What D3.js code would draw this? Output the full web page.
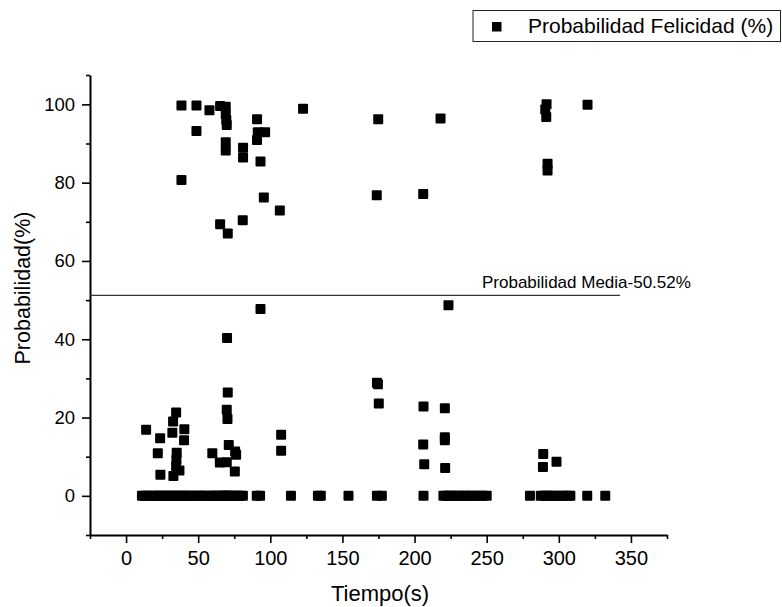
<!DOCTYPE html>
<html>
<head>
<meta charset="utf-8">
<script src="https://cdn.jsdelivr.net/npm/d3@7"></script>
<style>
  html, body { margin: 0; padding: 0; background: #fff; }
  svg { display: block; font-family: Arial, "Liberation Sans", sans-serif; }
</style>
</head>
<body>
<svg id="chart" width="782" height="607"></svg>
<script>
// ---- data ----
const seriesName = "Probabilidad Felicidad (%)";
const tiempo = [
  // upper cluster
  38.4, 48.8, 57.8, 65.2, 69.1, 69.1, 69.5, 69.8, 90.8, 96.4, 91.3, 90.8, 48.8, 69.1, 69.1, 81.1, 81.1, 93.2, 122.7, 38.4, 95.5, 106.6, 65.2, 80.9, 70.5,
  174.8, 218, 291.5, 290.6, 291.3, 319.9, 292.2, 292.2, 173.8, 206,
  // lower cluster
  93.2, 70, 70.5, 69.8, 70.3, 34.7, 32.6, 13.9, 32.1, 40.4, 23.6, 40.2, 22, 35.1, 34.9, 34.7, 37, 32.8, 23.8, 59.8, 65, 69.8, 71.2, 75.6, 76.3, 75.4, 107.5, 107.5,
  223.5, 173.9, 174.6, 175.2, 206.2, 221, 221, 221, 206, 206.7, 221.2, 289.2, 298.4, 289,
  // zero row
  11, 13, 15, 18, 20, 22, 24, 26, 28, 30, 32, 34, 36, 38, 40, 42, 44, 46, 49, 51, 53, 55, 58, 60, 62, 64, 66, 68, 69, 70, 71, 73, 75, 77, 79, 81,
  90.6, 92.9, 114.3, 133, 135, 154.2, 173.9, 177.3, 206.2,
  220, 222, 224, 226, 229, 231, 234, 236, 239, 241, 244, 247, 250,
  280, 287.5, 290, 292, 294, 297, 300, 303, 306, 308, 319.7, 332.2
];
const probabilidad = [
  99.7, 99.7, 98.5, 99.6, 99.4, 97.5, 96, 94.7, 96.2, 92.9, 92.9, 90.9, 93.2, 90.3, 88.2, 88.9, 86.4, 85.4, 98.9, 80.7, 76.2, 72.9, 69.4, 70.4, 67.0,
  96.2, 96.4, 100, 98.7, 96.8, 99.9, 84.8, 83.1, 76.8, 77.1,
  47.7, 40.3, 26.4, 22, 19.6, 21.3, 19, 16.9, 16.1, 17, 14.7, 14.2, 10.9, 11, 9.2, 7.5, 6.5, 5.1, 5.4, 10.9, 8.5, 8.6, 13, 11.3, 10.5, 6.2, 15.6, 11.5,
  48.7, 28.9, 28.5, 23.6, 22.8, 22.4, 15, 14.2, 13.1, 8.1, 7.1, 10.7, 8.7, 7.4,
  0, 0, 0, 0, 0, 0, 0, 0, 0, 0, 0, 0, 0, 0, 0, 0, 0, 0, 0, 0, 0, 0, 0, 0, 0, 0, 0, 0, 0, 0, 0, 0, 0, 0, 0, 0,
  0, 0, 0, 0, 0, 0, 0, 0, 0,
  0, 0, 0, 0, 0, 0, 0, 0, 0, 0, 0, 0, 0,
  0, 0, 0, 0, 0, 0, 0, 0, 0, 0, 0, 0
];
const xTicks = [0, 50, 100, 150, 200, 250, 300, 350];
const xMinorTicks = [-25, 25, 75, 125, 175, 225, 275, 325, 375];
const yTicks = [0, 20, 40, 60, 80, 100];
const yMinorTicks = [-10, 10, 30, 50, 70, 90];
const meanLabel = "Probabilidad Media-50.52%";
const meanLineT = [-25, 342.5];
const meanLineV = [51.2, 51.2];
const xTitle = "Tiempo(s)";
const yTitle = "Probabilidad(%)";

// ---- drawing ----
const svg = d3.select("#chart");
const x = d3.scaleLinear().domain([-25, 375]).range([90, 667]);
const y = d3.scaleLinear().domain([-10, 107.5]).range([535, 75]);

// x axis
const gx = svg.append("g").attr("transform", `translate(0,${y(-10)})`);
gx.call(d3.axisBottom(x).tickValues(xTicks).tickSize(8).tickPadding(8).tickSizeOuter(0));
gx.append("g").call(d3.axisBottom(x).tickValues(xMinorTicks).tickSize(4).tickFormat("").tickSizeOuter(0))
  .select(".domain").remove();
gx.selectAll(".domain").attr("stroke", "#000").attr("stroke-width", 2);
gx.selectAll(".tick line").attr("stroke", "#000").attr("stroke-width", 1.6);
gx.selectAll(".tick text").attr("font-size", 20).attr("fill", "#000").attr("font-family", "Arial, 'Liberation Sans', sans-serif");

// y axis
const gy = svg.append("g").attr("transform", `translate(${x(-25)},0)`);
gy.call(d3.axisLeft(y).tickValues(yTicks).tickSize(8).tickPadding(7).tickSizeOuter(0));
gy.append("g").call(d3.axisLeft(y).tickValues(yMinorTicks.concat([107.5])).tickSize(4).tickFormat("").tickSizeOuter(0))
  .select(".domain").remove();
gy.selectAll(".domain").attr("stroke", "#000").attr("stroke-width", 2);
gy.selectAll(".tick line").attr("stroke", "#000").attr("stroke-width", 1.6);
gy.selectAll(".tick text").attr("font-size", 18.5).attr("fill", "#000").attr("font-family", "Arial, 'Liberation Sans', sans-serif");

// axis titles
svg.append("text").attr("x", 380).attr("y", 601).attr("text-anchor", "middle")
  .attr("font-size", 22).attr("fill", "#000").text(xTitle);
svg.append("text").attr("transform", "translate(30,288) rotate(-90)").attr("text-anchor", "middle")
  .attr("font-size", 21.5).attr("fill", "#000").text(yTitle);

// mean line
svg.append("line")
  .attr("x1", x(meanLineT[0])).attr("x2", x(meanLineT[1]))
  .attr("y1", y(meanLineV[0])).attr("y2", y(meanLineV[1]))
  .attr("stroke", "#333").attr("stroke-width", 1.4);
svg.append("text").attr("x", 482).attr("y", 287.5).attr("font-size", 17).attr("fill", "#000").text(meanLabel);

// points
const pts = tiempo.map((t, i) => ({ t, v: probabilidad[i] }));
const S = 10;
svg.append("g").selectAll("rect").data(pts).join("rect")
  .attr("x", d => x(d.t) - S / 2).attr("y", d => y(d.v) - S / 2)
  .attr("width", S).attr("height", S).attr("rx", 1).attr("fill", "#000");

// legend
const lg = svg.append("g");
lg.append("rect").attr("x", 473).attr("y", 10.5).attr("width", 307.5).attr("height", 31)
  .attr("fill", "none").attr("stroke", "#222").attr("stroke-width", 1);
lg.append("rect").attr("x", 492).attr("y", 22).attr("width", 9.5).attr("height", 9.5).attr("fill", "#000");
lg.append("text").attr("x", 528).attr("y", 33.3).attr("font-size", 21).attr("fill", "#000").text(seriesName);
</script>
</body>
</html>
